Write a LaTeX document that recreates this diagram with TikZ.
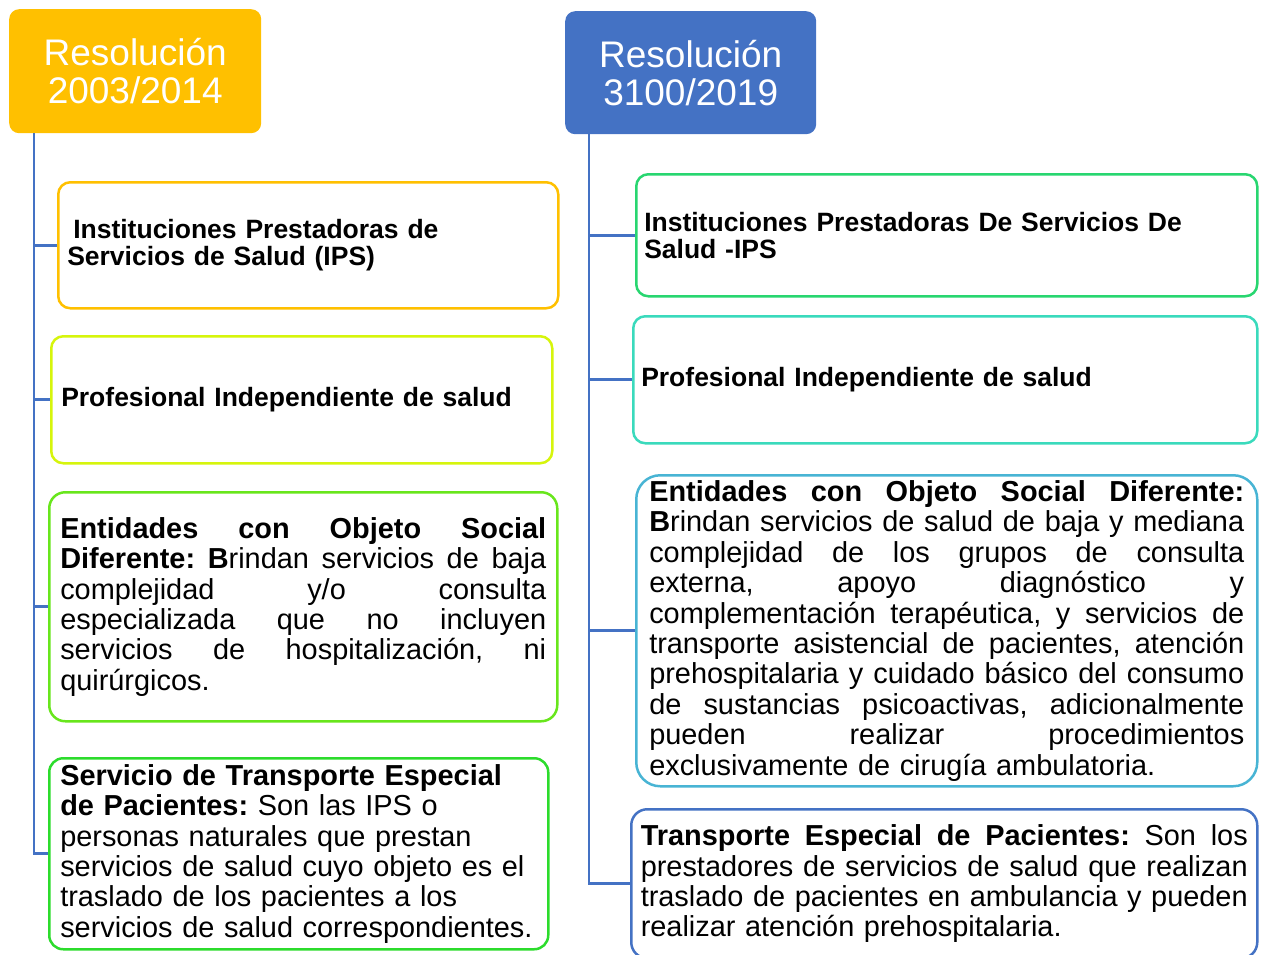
\documentclass[tikz,border=0pt]{standalone}
\usepackage{fontspec}
\setmainfont{Liberation Sans}
\usepackage{xcolor}
\usetikzlibrary{positioning}
\frenchspacing
\hyphenpenalty=10000
\definecolor{gold}{RGB}{255, 192, 0}
\definecolor{blue1}{RGB}{68, 114, 196}
\definecolor{lime1}{RGB}{214, 245, 12}
\definecolor{green1}{RGB}{104, 230, 28}
\definecolor{green2}{RGB}{44, 220, 44}
\definecolor{green3}{RGB}{40, 214, 112}
\definecolor{teal1}{RGB}{58, 218, 188}
\definecolor{cyan1}{RGB}{72, 180, 212}
\tikzstyle{hdr} = [
	rounded corners=10pt,
	text=white,
	align=center,
	inner sep=0pt,
	anchor=north west,
	font=\fontsize{37}{38}\selectfont
]
\tikzstyle{ibox} = [
	draw,
	fill=white,
	line width=2.5pt,
	rounded corners=12pt,
	inner ysep=0pt,
	align=left,
	anchor=north west
]
\tikzstyle{ttl} = [font=\fontsize{26.5}{27}\selectfont\bfseries]
\tikzstyle{txt} = [font=\fontsize{28.9}{30.4}\selectfont]
\tikzstyle{trunk} = [draw=blue1, line width=2.8pt]
% one justified line
\newcommand{\jl}[1]{\makebox[\hsize][s]{\spaceskip=0.278em plus 1fil\relax #1}\\}

\begin{document}
\begin{tikzpicture}[x=1pt, y=-1pt]
	\useasboundingbox (0,0) rectangle (1263,954);

	%
	% Headers
	\node[hdr, fill=gold, minimum width=252pt, minimum height=124pt] at (9,9) (R2003) {Resolución\\2003/2014};
	\node[hdr, fill=blue1, minimum width=251pt, minimum height=123pt] at (565,11) (R3100) {Resolución\\3100/2019};

	%
	% Boxes of 2003/2014
	\node[ibox, ttl, draw=gold, inner xsep=9pt, text width=482pt, minimum height=126pt] at (57,181) (R2003_ips) {\hspace*{6pt}Instituciones Prestadoras de\\Servicios de Salud (IPS)};
	\node[ibox, ttl, draw=lime1, inner xsep=10pt, text width=481pt, minimum height=127pt] at (50,335) (R2003_pi) {Profesional Independiente de salud};
	\node[ibox, txt, draw=green1, rounded corners=16pt, inner xsep=11pt, text width=486pt, minimum height=229pt] at (48,491) (R2003_eos) {%
		\jl{\textbf{Entidades con Objeto Social}}
		\jl{\textbf{Diferente: B}rindan servicios de baja}
		\jl{complejidad y/o consulta}
		\jl{especializada que no incluyen}
		\jl{servicios de hospitalización, ni}
		quirúrgicos.};
	\node[ibox, txt, draw=green2, rounded corners=14pt, inner xsep=11pt, text width=477pt, minimum height=191pt] at (48,757) (R2003_tep) {%
		\textbf{Servicio de Transporte Especial}\\
		\textbf{de Pacientes:} Son las IPS o\\
		personas naturales que prestan\\
		servicios de salud cuyo objeto es el\\
		traslado de los pacientes a los\\
		servicios de salud correspondientes.};

	%
	% Boxes of 3100/2019
	\node[ibox, ttl, draw=green3, inner xsep=8pt, text width=605pt, minimum height=122pt] at (635,173) (R3100_ips) {Instituciones Prestadoras De Servicios De\\Salud -IPS};
	\node[ibox, ttl, draw=teal1, inner xsep=8pt, text width=608pt, minimum height=127pt] at (632,315) (R3100_pi) {Profesional Independiente de salud};
	\node[ibox, txt, draw=cyan1, rounded corners=24pt, inner xsep=13pt, text width=595pt, minimum height=311pt] at (635,474) (R3100_eos) {%
		\jl{\textbf{Entidades con Objeto Social Diferente:}}
		\jl{\textbf{B}rindan servicios de salud de baja y mediana}
		\jl{complejidad de los grupos de consulta}
		\jl{externa, apoyo diagnóstico y}
		\jl{complementación terapéutica, y servicios de}
		\jl{transporte asistencial de pacientes, atención}
		\jl{prehospitalaria y cuidado básico del consumo}
		\jl{de sustancias psicoactivas, adicionalmente}
		\jl{pueden realizar procedimientos}
		exclusivamente de cirugía ambulatoria.};
	\node[ibox, txt, draw=blue1, rounded corners=16pt, inner xsep=9.5pt, text width=607pt, minimum height=149pt] at (630,808) (R3100_tep) {%
		\jl{\textbf{Transporte Especial de Pacientes:} Son los}
		\jl{prestadores de servicios de salud que realizan}
		\jl{traslado de pacientes en ambulancia y pueden}
		realizar atención prehospitalaria.};

	%
	% Connectors
	\draw[trunk] ([xshift=25pt]R2003.south west) |- (R2003_ips.west);
	\draw[trunk] ([xshift=25pt]R2003.south west) |- (R2003_pi.west);
	\draw[trunk] ([xshift=25pt]R2003.south west) |- (R2003_eos.west);
	\draw[trunk] ([xshift=25pt]R2003.south west) |- (R2003_tep.west);

	\draw[trunk] ([xshift=24pt]R3100.south west) |- (R3100_ips.west);
	\draw[trunk] ([xshift=24pt]R3100.south west) |- (R3100_pi.west);
	\draw[trunk] ([xshift=24pt]R3100.south west) |- (R3100_eos.west);
	\draw[trunk] ([xshift=24pt]R3100.south west) |- (R3100_tep.west);

\end{tikzpicture}
\end{document}
